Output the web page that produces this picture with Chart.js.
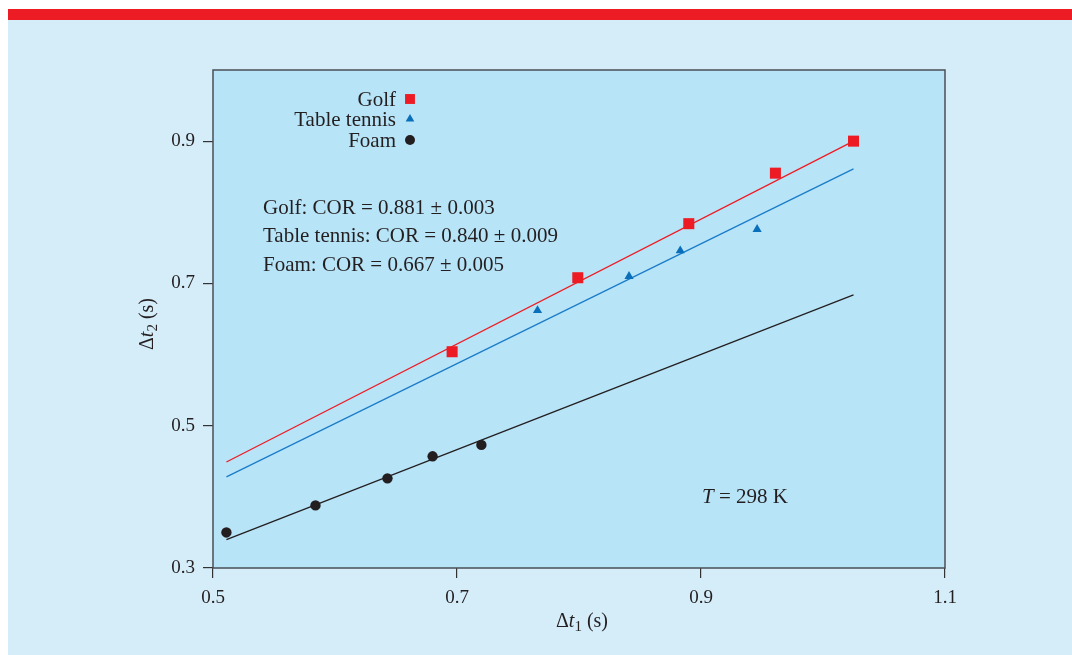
<!DOCTYPE html>
<html>
<head>
<meta charset="utf-8">
<script src="https://cdn.jsdelivr.net/npm/chart.js@4"></script>
<style>
  html, body { margin: 0; padding: 0; background: #ffffff; }
  #wrap { width: 1072px; height: 655px; position: relative; }
</style>
</head>
<body>
<div id="wrap"><canvas id="cor"></canvas></div>
<script>
// measured points (Δt1, Δt2) in seconds
const golfX = [0.696, 0.799, 0.890, 0.961, 1.025];
const golfY = [0.604, 0.708, 0.784, 0.855, 0.900];
const tennisX = [0.766, 0.841, 0.883, 0.946];
const tennisY = [0.662, 0.710, 0.746, 0.776];
const foamX = [0.511, 0.584, 0.643, 0.680, 0.720];
const foamY = [0.350, 0.388, 0.426, 0.457, 0.473];

// fitted lines, end points
const fitX = [0.511, 1.025];
const golfFitY = [0.449, 0.900];
const tennisFitY = [0.428, 0.861];
const foamFitY = [0.340, 0.684];

const xTicks = [0.5, 0.7, 0.9, 1.1];
const yTicks = [0.3, 0.5, 0.7, 0.9];

const seriesNames = ['Golf', 'Table tennis', 'Foam'];
const corLines = [
  'Golf: COR = 0.881 \u00b1 0.003',
  'Table tennis: COR = 0.840 \u00b1 0.009',
  'Foam: COR = 0.667 \u00b1 0.005'
];

const RED = '#ed1c24';
const BLUE = '#0a6fba';
const BLACK = '#231f20';
const SERIF = '"Liberation Serif", "DejaVu Serif", serif';

const pts = (xs, ys) => xs.map((x, i) => ({ x: x, y: ys[i] }));

// page background, frame, axis titles, legend, notes
const decor = {
  id: 'decor',
  beforeDraw(chart) {
    const ctx = chart.ctx;
    const a = chart.chartArea;
    ctx.save();
    ctx.fillStyle = '#ffffff';
    ctx.fillRect(0, 0, chart.width, chart.height);
    ctx.fillStyle = RED;
    ctx.fillRect(8, 9, chart.width - 8, 11);
    ctx.fillStyle = '#d5ecf9';
    ctx.fillRect(8, 20, chart.width - 8, chart.height - 20);
    ctx.fillStyle = '#b8e4f8';
    ctx.fillRect(a.left, a.top, a.right - a.left, a.bottom - a.top);
    ctx.restore();
  },
  afterDraw(chart) {
    const ctx = chart.ctx;
    const a = chart.chartArea;
    ctx.save();
    ctx.strokeStyle = '#4a4f55';
    ctx.lineWidth = 1.5;
    ctx.strokeRect(a.left, a.top, a.right - a.left, a.bottom - a.top);

    ctx.fillStyle = '#231f20';
    ctx.textBaseline = 'middle';

    // legend: text right aligned, marker to the right
    ctx.font = '21px ' + SERIF;
    ctx.textAlign = 'right';
    const legY = [100, 120, 141];
    chart.data.datasets.slice(0, 3).forEach((ds, i) => {
      ctx.fillStyle = '#231f20';
      ctx.fillText(seriesNames[i], 396, legY[i]);
      ctx.fillStyle = ds.backgroundColor;
      Chart.helpers.drawPoint(ctx, {
        pointStyle: ds.pointStyle,
        radius: ds.pointStyle === 'rect' ? 7 : 5,
        borderWidth: 0
      }, 410, legY[i] - 1);
    });

    // COR notes
    ctx.fillStyle = '#231f20';
    ctx.textAlign = 'left';
    ctx.font = '21px ' + SERIF;
    corLines.forEach((t, i) => ctx.fillText(t, 263, 208 + i * 28.5));

    // T = 298 K
    ctx.font = 'italic 21px ' + SERIF;
    ctx.fillText('T', 702, 497);
    let w = ctx.measureText('T').width;
    ctx.font = '21px ' + SERIF;
    ctx.fillText(' = 298 K', 702 + w, 497);

    // axis titles with italic t and subscript
    const title = (sub, cx, cy, rot) => {
      ctx.save();
      ctx.translate(cx, cy);
      ctx.rotate(rot);
      const parts = [
        { t: '\u0394', f: '20px ' + SERIF, dy: 0 },
        { t: 't', f: 'italic 20px ' + SERIF, dy: 0 },
        { t: sub, f: '15px ' + SERIF, dy: 5 },
        { t: ' (s)', f: '20px ' + SERIF, dy: 0 }
      ];
      let total = 0;
      parts.forEach(p => { ctx.font = p.f; total += ctx.measureText(p.t).width; });
      let x = -total / 2;
      ctx.textAlign = 'left';
      parts.forEach(p => {
        ctx.font = p.f;
        ctx.fillText(p.t, x, p.dy);
        x += ctx.measureText(p.t).width;
      });
      ctx.restore();
    };
    title('1', 582, 622, 0);
    title('2', 148, 324, -Math.PI / 2);
    ctx.restore();
  }
};

new Chart(document.getElementById('cor'), {
  type: 'scatter',
  data: {
    datasets: [
      {
        label: seriesNames[0],
        data: pts(golfX, golfY),
        pointStyle: 'rect',
        pointRadius: 7.8,
        backgroundColor: RED,
        borderWidth: 0
      },
      {
        label: seriesNames[1],
        data: pts(tennisX, tennisY),
        pointStyle: 'triangle',
        pointRadius: 5.3,
        backgroundColor: BLUE,
        borderWidth: 0
      },
      {
        label: seriesNames[2],
        data: pts(foamX, foamY),
        pointStyle: 'circle',
        pointRadius: 5.2,
        backgroundColor: BLACK,
        borderWidth: 0
      },
      {
        label: 'Golf fit',
        type: 'line',
        data: pts(fitX, golfFitY),
        borderColor: RED,
        borderWidth: 1.3,
        pointRadius: 0,
        order: 5
      },
      {
        label: 'Table tennis fit',
        type: 'line',
        data: pts(fitX, tennisFitY),
        borderColor: '#1a7cc8',
        borderWidth: 1.3,
        pointRadius: 0,
        order: 5
      },
      {
        label: 'Foam fit',
        type: 'line',
        data: pts(fitX, foamFitY),
        borderColor: BLACK,
        borderWidth: 1.3,
        pointRadius: 0,
        order: 5
      }
    ]
  },
  options: {
    responsive: true,
    maintainAspectRatio: false,
    animation: false,
    layout: { padding: { left: 0, top: 70, right: 127, bottom: 0 } },
    plugins: {
      legend: { display: false },
      tooltip: { enabled: false }
    },
    scales: {
      x: {
        type: 'linear',
        min: 0.5,
        max: 1.1,
        afterBuildTicks: s => { s.ticks = xTicks.map(v => ({ value: v })); },
        afterFit: s => { s.height = 87; },
        grid: { drawOnChartArea: false, tickLength: 10, color: '#333', lineWidth: 1.2 },
        border: { display: false },
        ticks: {
          color: '#231f20',
          padding: 9,
          font: { family: SERIF, size: 19 },
          callback: v => v.toFixed(1)
        }
      },
      y: {
        type: 'linear',
        min: 0.3,
        max: 1.0,
        afterBuildTicks: s => { s.ticks = yTicks.map(v => ({ value: v })); },
        afterFit: s => { s.width = 213; },
        grid: { drawOnChartArea: false, tickLength: 10, color: '#333', lineWidth: 1.2 },
        border: { display: false },
        ticks: {
          color: '#231f20',
          padding: 8,
          font: { family: SERIF, size: 19 },
          callback: v => v.toFixed(1)
        }
      }
    }
  },
  plugins: [decor]
});
</script>
</body>
</html>
